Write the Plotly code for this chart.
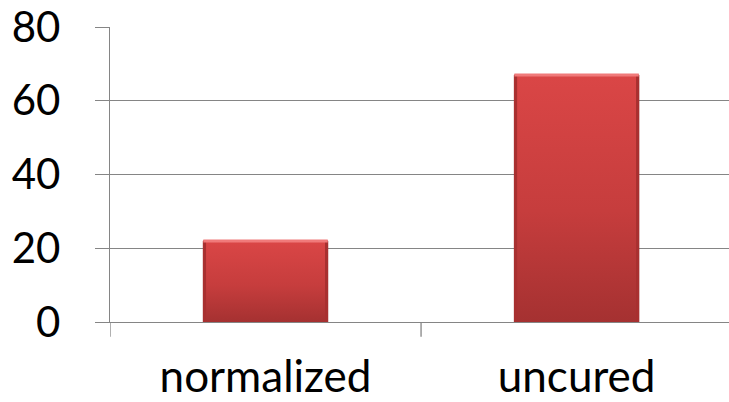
import plotly.graph_objects as go

categories = ["normalized", "uncured"]
values = [22, 67]
y_ticks = [0, 20, 40, 60, 80]

bar_width = 0.4
grid_color = "#858585"

fig = go.Figure()

# Main bars
fig.add_trace(go.Bar(
    x=list(range(len(categories))),
    y=values,
    width=bar_width,
    marker=dict(color="#C83B3B", line=dict(color="#9A2A2A", width=1)),
    hoverinfo="skip",
    showlegend=False,
))

# Vertical shading over each bar: lighter at the top, darker at the bottom
for i, v in enumerate(values):
    half = bar_width / 2
    fig.add_trace(go.Scatter(
        x=[i - half, i + half, i + half, i - half, i - half],
        y=[0, 0, v, v, 0],
        mode="lines",
        line=dict(width=0),
        fill="toself",
        fillgradient=dict(
            type="vertical",
            colorscale=[[0, "#A53131"], [0.45, "#C63D3D"], [1, "#DA4646"]],
        ),
        hoverinfo="skip",
        showlegend=False,
    ))
    # darker edges on the sides of the bar
    for side in (-1, 1):
        fig.add_trace(go.Scatter(
            x=[i + side * (half - 0.004)] * 2,
            y=[0, v],
            mode="lines",
            line=dict(color="#A83030", width=3),
            hoverinfo="skip",
            showlegend=False,
        ))
    # bright bevel strip along the top edge
    fig.add_trace(go.Scatter(
        x=[i - half, i + half],
        y=[v, v],
        mode="lines",
        line=dict(color="#F07A7A", width=3),
        hoverinfo="skip",
        showlegend=False,
    ))

fig.update_layout(
    width=729,
    height=402,
    margin=dict(l=110, r=0, t=27, b=80),
    paper_bgcolor="white",
    plot_bgcolor="white",
    font=dict(family="Lato, Open Sans, sans-serif", size=42, color="black"),
    xaxis=dict(
        range=[-0.5, 1.49],
        tickmode="array",
        tickvals=[0, 1],
        ticktext=categories,
        tickfont=dict(size=44),
        showgrid=False,
        showline=True,
        linecolor=grid_color,
        linewidth=1.3,
        ticks="",
        ticklabelstandoff=16,
        zeroline=False,
        automargin=False,
    ),
    yaxis=dict(
        range=[0, 80],
        tickvals=y_ticks,
        showgrid=True,
        gridcolor=grid_color,
        gridwidth=1.3,
        showline=True,
        linecolor=grid_color,
        linewidth=1.3,
        ticks="outside",
        ticklen=14,
        tickwidth=1.3,
        tickcolor=grid_color,
        ticklabelstandoff=26,
        zeroline=False,
        automargin=False,
    ),
)

# Category boundary ticks below the x axis
for b in [-0.5, 0.5]:
    fig.add_shape(
        type="line", xref="x", yref="paper",
        x0=b, x1=b, y0=0, y1=-0.05,
        line=dict(color=grid_color, width=1.3),
    )

fig.write_html("out.html")
